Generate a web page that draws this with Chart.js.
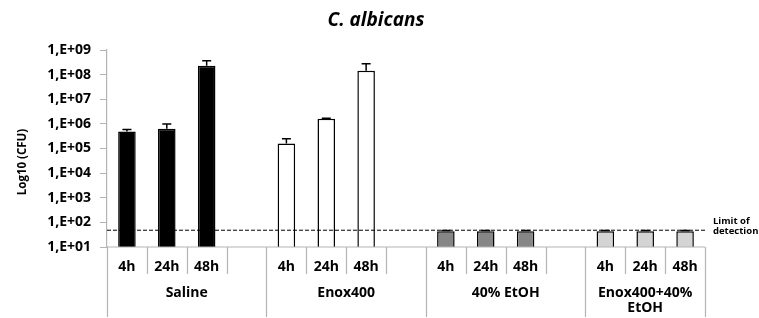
<!DOCTYPE html>
<html>
<head>
<meta charset="utf-8">
<script src="https://cdn.jsdelivr.net/npm/chart.js@4.4.0/dist/chart.umd.min.js"></script>
<style>
  html, body { margin: 0; padding: 0; background: #fff; }
  #wrap { width: 759px; height: 318px; }
</style>
</head>
<body>
<div id="wrap"><canvas id="chart"></canvas></div>
<script>
// Donnees du graphique
const timeLabels = ['4h', '24h', '48h', '', '4h', '24h', '48h', '', '4h', '24h', '48h', '', '4h', '24h', '48h'];
const groupNames = [['Saline'], ['Enox400'], ['40% EtOH'], ['Enox400+40%', 'EtOH']];
const groupStart = [0, 4, 8, 12];
const groupEnd = [3, 7, 11, 14];
const cfuValues = [4.9e5, 6.4e5, 2.3e8, null, 1.6e5, 1.6e6, 1.45e8, null, 44, 44, 44, null, 44, 44, 44];
const cfuErrors = [1.0e5, 3.6e5, 1.4e8, null, 0.9e5, 0.1e6, 1.3e8, null, 3, 3, 3, null, 3, 3, 3];
const groupColors = ['#000000', '#ffffff', '#868686', '#d4d4d4'];
const yTickValues = [1e1, 1e2, 1e3, 1e4, 1e5, 1e6, 1e7, 1e8, 1e9];
const limitOfDetection = 48;
const chartTitle = 'C. albicans';
const yTitle = 'Log10 (CFU)';

const FONT = "'Open Sans', 'DejaVu Sans', sans-serif";

// couleur de chaque barre selon son groupe
const barColors = timeLabels.map((_, i) => groupColors[Math.floor(i / 4)]);

function formatTick(v) {
    const exp = Math.round(Math.log10(v));
    return '1,E+' + String(exp).padStart(2, '0');
}

// Titres, barres d'erreur, ligne de detection et axe des categories
const extrasPlugin = {
    id: 'extras',
    afterDatasetsDraw(chart) {
        const ctx = chart.ctx;
        const y = chart.scales.y;
        const x = chart.scales.x;
        const area = chart.chartArea;
        const meta = chart.getDatasetMeta(0);

        // titre principal et titre de l'axe Y
        ctx.save();
        ctx.fillStyle = '#000';
        ctx.textAlign = 'center';
        ctx.textBaseline = 'middle';
        ctx.font = 'italic bold 19px ' + FONT;
        ctx.fillText(chartTitle, 376, 21);
        ctx.translate(23, 162);
        ctx.rotate(-Math.PI / 2);
        ctx.font = 'bold 11.5px ' + FONT;
        ctx.fillText(yTitle, 0, 0);
        ctx.restore();

        // barres d'erreur (vers le haut seulement)
        ctx.save();
        ctx.strokeStyle = '#000';
        ctx.lineWidth = 1.5;
        meta.data.forEach((bar, i) => {
            if (cfuValues[i] == null) return;
            const top = y.getPixelForValue(cfuValues[i] + cfuErrors[i]);
            const base = y.getPixelForValue(cfuValues[i]);
            ctx.beginPath();
            ctx.moveTo(bar.x, base);
            ctx.lineTo(bar.x, top);
            ctx.moveTo(bar.x - 4.5, top);
            ctx.lineTo(bar.x + 4.5, top);
            ctx.stroke();
        });
        ctx.restore();

        // limite de detection
        const ly = y.getPixelForValue(limitOfDetection);
        ctx.save();
        ctx.strokeStyle = '#000';
        ctx.lineWidth = 1;
        ctx.setLineDash([4, 2]);
        ctx.beginPath();
        ctx.moveTo(area.left, ly);
        ctx.lineTo(area.right + 2, ly);
        ctx.stroke();
        ctx.restore();

        ctx.save();
        ctx.fillStyle = '#000';
        ctx.font = 'bold 9.5px ' + FONT;
        ctx.textAlign = 'left';
        ctx.textBaseline = 'middle';
        ctx.fillText('Limit of', area.right + 8, ly - 9);
        ctx.fillText('detection', area.right + 8, ly + 1);
        ctx.restore();

        // axe des categories a deux niveaux
        const half = (x.getPixelForValue(1) - x.getPixelForValue(0)) / 2;
        ctx.save();
        ctx.strokeStyle = '#b4b4b4';
        ctx.lineWidth = 1.2;
        ctx.beginPath();
        ctx.moveTo(area.left, area.bottom);
        ctx.lineTo(x.getPixelForValue(timeLabels.length - 1) + half, area.bottom);
        for (let i = 0; i <= timeLabels.length; i++) {
            const px = Math.round((i < timeLabels.length ? x.getPixelForValue(i) - half : x.getPixelForValue(i - 1) + half)) + 0.5;
            const isGroupEdge = groupStart.includes(i) || i === timeLabels.length;
            ctx.moveTo(px, area.bottom);
            ctx.lineTo(px, area.bottom + (isGroupEdge ? 70 : 27));
        }
        ctx.stroke();

        ctx.fillStyle = '#000';
        ctx.textAlign = 'center';
        ctx.textBaseline = 'middle';
        ctx.font = 'bold 14px ' + FONT;
        timeLabels.forEach((lab, i) => {
            if (lab) ctx.fillText(lab, x.getPixelForValue(i), area.bottom + 20);
        });
        groupNames.forEach((lines, g) => {
            const cx = (x.getPixelForValue(groupStart[g]) - half + x.getPixelForValue(groupEnd[g]) + half) / 2;
            lines.forEach((ln, k) => {
                ctx.fillText(ln, cx, area.bottom + 46 + k * 15);
            });
        });
        ctx.restore();
    }
};

const ctx = document.getElementById('chart').getContext('2d');
const chart = new Chart(ctx, {
    type: 'bar',
    data: {
        labels: timeLabels,
        datasets: [{
            data: cfuValues,
            backgroundColor: barColors,
            borderColor: '#000',
            borderWidth: 1.5,
            barPercentage: 0.44,
            categoryPercentage: 1.0
        }]
    },
    options: {
        responsive: true,
        maintainAspectRatio: false,
        animation: false,
        layout: { padding: { top: 50, right: 54, bottom: 71, left: 0 } },
        plugins: {
            legend: { display: false },
            tooltip: { enabled: false },
            title: { display: false }
        },
        scales: {
            x: {
                display: false
            },
            y: {
                type: 'logarithmic',
                min: 10,
                max: 1e9,
                afterBuildTicks(scale) {
                    scale.ticks = yTickValues.map(v => ({ value: v }));
                },
                afterFit(scale) {
                    scale.width = 107;
                },
                border: { color: '#b4b4b4', width: 1.2 },
                grid: { drawOnChartArea: false, drawTicks: true, tickLength: 7, color: '#b4b4b4' },
                ticks: {
                    color: '#000',
                    padding: 9,
                    font: { family: FONT, size: 14, weight: 'bold' },
                    callback: (v) => formatTick(v)
                }
            }
        }
    },
    plugins: [extrasPlugin]
});
</script>
</body>
</html>
